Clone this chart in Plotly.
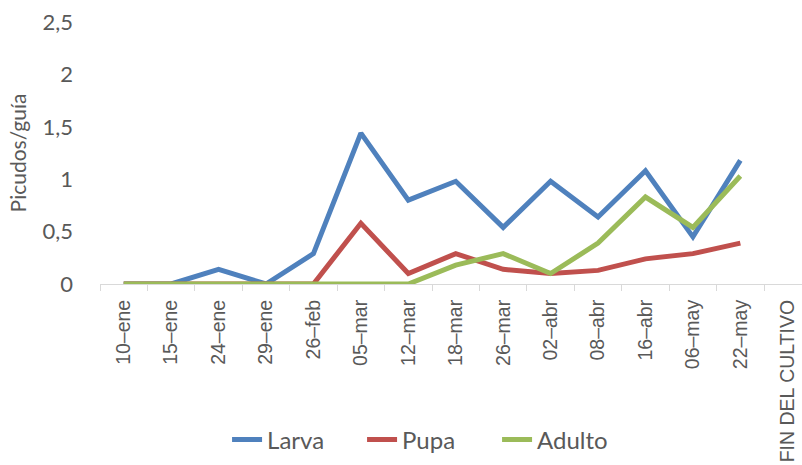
import plotly.graph_objects as go

categories = ["10–ene", "15–ene", "24–ene", "29–ene", "26–feb", "05–mar", "12–mar",
              "18–mar", "26–mar", "02–abr", "08–abr", "16–abr", "06–may", "22–may",
              "FIN DEL CULTIVO"]
larva = [0, 0, 0.14, 0, 0.29, 1.44, 0.80, 0.98, 0.54, 0.98, 0.64, 1.08, 0.45, 1.18, None]
pupa = [0, 0, 0, 0, 0, 0.58, 0.10, 0.29, 0.14, 0.10, 0.13, 0.24, 0.29, 0.39, None]
adulto = [0, 0, 0, 0, 0, 0, 0, 0.18, 0.29, 0.10, 0.39, 0.83, 0.54, 1.03, None]
y_ticks = [0, 0.5, 1, 1.5, 2, 2.5]

FONT = "Lato"
GREY = "#595959"
fig = go.Figure()
for name, vals, color in [("Larva", larva, "#4F81BD"),
                          ("Pupa", pupa, "#C0504D"),
                          ("Adulto", adulto, "#9BBB59")]:
    fig.add_trace(go.Scatter(x=categories, y=vals, name=name, mode="lines",
                             line=dict(color=color, width=5)))

fig.update_layout(
    width=802, height=465,
    margin=dict(l=100, r=0, t=22, b=181),
    plot_bgcolor="white", paper_bgcolor="white",
    separators=",.",
    font=dict(family=FONT, size=21, color=GREY),
    showlegend=True,
    legend=dict(orientation="h", x=0.181, xanchor="left", y=-0.595, yanchor="middle",
                entrywidth=90, font=dict(size=24, color=GREY)),
    xaxis=dict(type="category", range=[-0.5, 14.3], showline=True, linecolor="#D9D9D9",
               linewidth=1, ticks="outside", tickson="boundaries", ticklen=6,
               tickcolor="#D9D9D9", tickangle=-90, showgrid=False, automargin=False,
               ticklabelstandoff=7,
               tickfont=dict(size=19.5, family="Liberation Sans", color=GREY)),
    yaxis=dict(range=[0, 2.5], tickvals=y_ticks, showgrid=False, zeroline=False,
               showline=False, ticks="", ticklabelstandoff=26, automargin=False,
               tickfont=dict(size=22, color=GREY),
               title=dict(text="Picudos/guía", font=dict(size=21, color=GREY), standoff=10)),
)
fig.write_html("out.html", post_script="document.body.style.margin='0';",
               config={"displayModeBar": False})
